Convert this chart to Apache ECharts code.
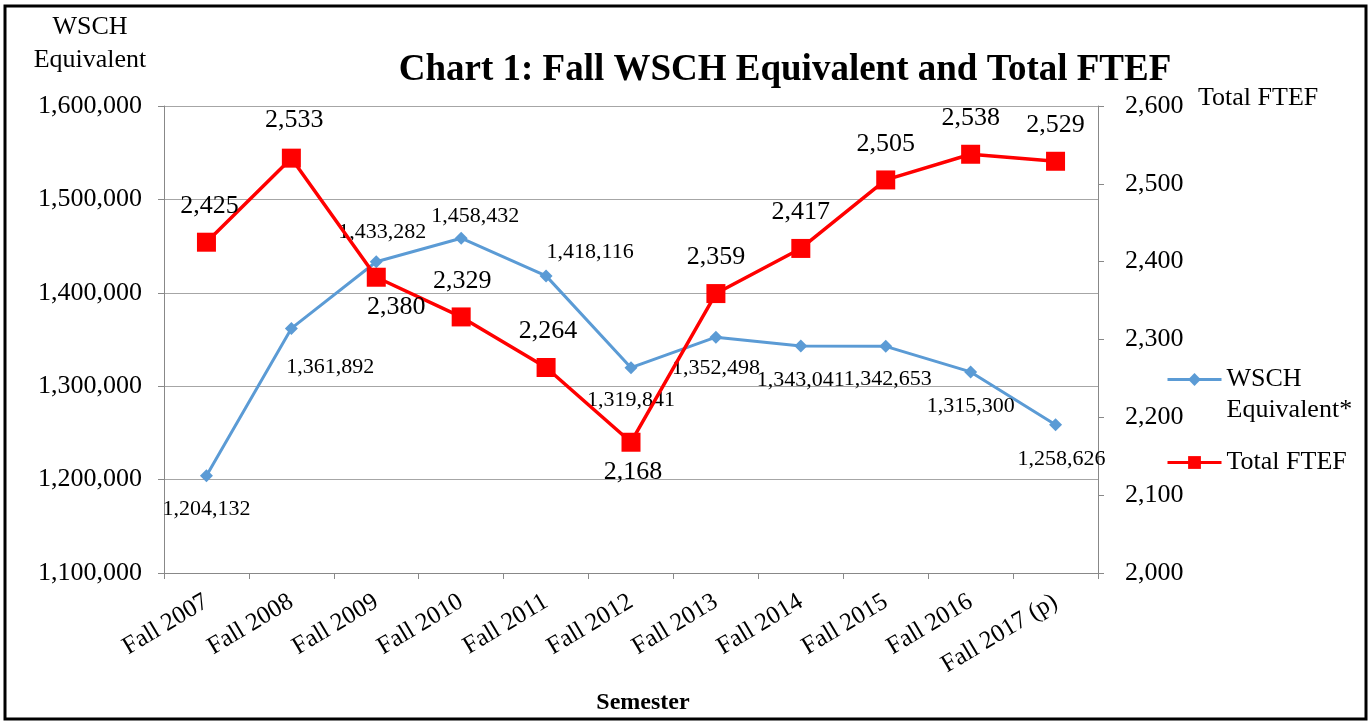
<!DOCTYPE html>
<html>
<head>
<meta charset="utf-8">
<script src="https://cdn.jsdelivr.net/npm/echarts@6/dist/echarts.min.js"></script>
<style>
html,body{margin:0;padding:0;background:#fff;}
#chart{width:1371px;height:723px;}
</style>
</head>
<body>
<div id="chart"></div>
<script>
const categories = ['Fall 2007','Fall 2008','Fall 2009','Fall 2010','Fall 2011','Fall 2012','Fall 2013','Fall 2014','Fall 2015','Fall 2016','Fall 2017 (p)'];
const wschValues = [1204132,1361892,1433282,1458432,1418116,1319841,1352498,1343041,1342653,1315300,1258626];
const ftefValues = [2425,2533,2380,2329,2264,2168,2359,2417,2505,2538,2529];
const leftAxisRange = {min:1100000, max:1600000, interval:100000};
const rightAxisRange = {min:2000, max:2600, interval:100};

// label offsets (label centre relative to point)
const wschLabelOffsets = [[0,33],[39,39],[6,-29],[14,-22],[44,-24],[0,33],[0,31],[0,34],[2,33],[0,34],[6,34]];
const ftefLabelOffsets = [[3,-36],[3,-38],[20,30],[1,-36],[2,-36],[2,30],[0,-36],[0,-36],[0,-36],[0,-36],[0,-36]];

const FONT = '"Liberation Serif", "Times New Roman", serif';
const fmt = v => Number(v).toLocaleString('en-US');

const wschData = wschValues.map((v,i)=>({value:v, label:{offset:wschLabelOffsets[i]}}));
const ftefData = ftefValues.map((v,i)=>({value:v, label:{offset:ftefLabelOffsets[i]}}));

const chart = echarts.init(document.getElementById('chart'), null, {renderer:'canvas'});
chart.setOption({
  animation:false,
  backgroundColor:'#fff',
  textStyle:{fontFamily:FONT},
  title:{
    text:'Chart 1: Fall WSCH Equivalent and Total FTEF',
    left:780, top:47, textAlign:'center',
    textStyle:{fontFamily:FONT, fontWeight:'bold', fontSize:37, color:'#000'}
  },
  graphic:[{
    type:'rect', silent:true, z:100,
    shape:{x:5, y:6, width:1361, height:713},
    style:{fill:'none', stroke:'#000', lineWidth:3}
  }],
  legend:{
    orient:'vertical', left:1166, top:333, padding:0, itemGap:21,
    itemWidth:54, itemHeight:16,
    lineStyle:{width:3},
    data:['WSCH Equivalent*','Total FTEF'],
    formatter: n => n === 'WSCH Equivalent*' ? ' \nWSCH\nEquivalent*' : n,
    textStyle:{fontFamily:FONT, fontSize:26, color:'#000', lineHeight:31}
  },
  grid:{left:164, right:273, top:106, bottom:150, containLabel:false},
  xAxis:{
    type:'category', data:categories, boundaryGap:true,
    name:'Semester', nameLocation:'middle', nameGap:118,
    nameTextStyle:{fontFamily:FONT, fontWeight:'bold', fontSize:24, color:'#000', padding:[0,0,0,24]},
    axisLine:{lineStyle:{color:'#888', width:1}},
    axisTick:{show:true, length:6, lineStyle:{color:'#888'}},
    axisLabel:{rotate:31, margin:27, fontFamily:FONT, fontSize:25, color:'#000', interval:0}
  },
  yAxis:[{
    type:'value', position:'left',
    min:leftAxisRange.min, max:leftAxisRange.max, interval:leftAxisRange.interval,
    name:'WSCH\nEquivalent', nameLocation:'end', nameGap:62,
    nameTextStyle:{fontFamily:FONT, fontSize:26, color:'#000', lineHeight:33, align:'center', verticalAlign:'middle', padding:[0,148,0,0]},
    axisLine:{show:true, lineStyle:{color:'#888', width:1}},
    axisTick:{show:true, length:6, lineStyle:{color:'#888'}},
    axisLabel:{margin:22, fontFamily:FONT, fontSize:26, color:'#000', formatter:fmt},
    splitLine:{show:true, lineStyle:{color:'#a6a6a6', width:1}}
  },{
    type:'value', position:'right',
    min:rightAxisRange.min, max:rightAxisRange.max, interval:rightAxisRange.interval,
    name:'Total FTEF', nameLocation:'end', nameGap:8,
    nameTextStyle:{fontFamily:FONT, fontSize:26, color:'#000', align:'left', verticalAlign:'middle', padding:[0,0,0,100]},
    axisLine:{show:true, lineStyle:{color:'#888', width:1}},
    axisTick:{show:true, length:6, lineStyle:{color:'#888'}},
    axisLabel:{margin:27, fontFamily:FONT, fontSize:26, color:'#000', formatter:fmt},
    splitLine:{show:false}
  }],
  series:[{
    name:'WSCH Equivalent*', type:'line', yAxisIndex:0, data:wschData,
    symbol:'diamond', symbolSize:13,
    itemStyle:{color:'#5B9BD5'},
    lineStyle:{color:'#5B9BD5', width:3},
    label:{show:true, position:'inside', fontFamily:FONT, fontSize:22, color:'#000', formatter:p=>fmt(p.value)},
    z:2
  },{
    name:'Total FTEF', type:'line', yAxisIndex:1, data:ftefData,
    symbol:'rect', symbolSize:19,
    itemStyle:{color:'#FF0000'},
    lineStyle:{color:'#FF0000', width:3.5},
    label:{show:true, position:'inside', fontFamily:FONT, fontSize:26, color:'#000', formatter:p=>fmt(p.value)},
    z:3
  }]
});
</script>
</body>
</html>
